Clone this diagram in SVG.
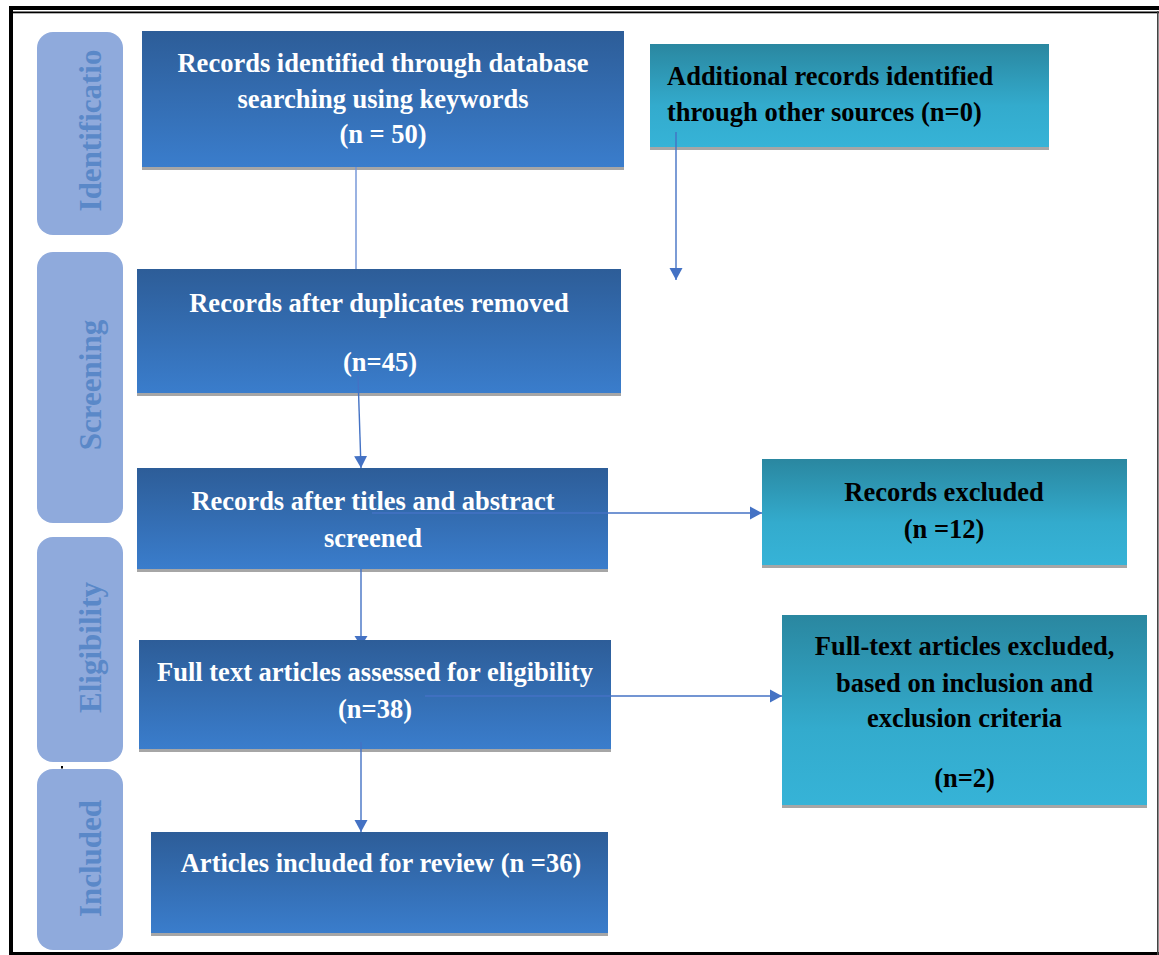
<svg xmlns="http://www.w3.org/2000/svg" width="1159" height="955" viewBox="0 0 1159 955">
<defs>
<linearGradient id="gBlue" x1="0" y1="0" x2="0" y2="1">
<stop offset="0" stop-color="#2D5D98"/>
<stop offset="1" stop-color="#3A7DCC"/>
</linearGradient>
<linearGradient id="gTeal" x1="0" y1="0" x2="0" y2="1">
<stop offset="0" stop-color="#2A87A0"/>
<stop offset="0.6" stop-color="#33ABCD"/>
<stop offset="1" stop-color="#36B3D7"/>
</linearGradient>
<marker id="arr" markerUnits="userSpaceOnUse" markerWidth="13" markerHeight="14" refX="12" refY="7" orient="auto">
<path d="M0,0.5 L12,7 L0,13.5 z" fill="#4472C4"/>
</marker>
<style>
.pill{fill:#8FAADC;}
.ptxt{font-family:"Liberation Serif","Times New Roman",serif;font-weight:bold;font-size:31px;fill:#5A88C8;text-anchor:middle;}
.bb{fill:url(#gBlue);}
.tb{fill:url(#gTeal);}
.sh{fill:#A6A6A6;}
.wt{font-family:"Liberation Serif","Times New Roman",serif;font-weight:bold;font-size:26.5px;fill:#FFFFFF;text-anchor:middle;}
.kt{font-family:"Liberation Serif","Times New Roman",serif;font-weight:bold;font-size:26.5px;fill:#000000;text-anchor:middle;}
.con{stroke:#4472C4;stroke-width:1.4;fill:none;}
</style>
</defs>
<rect x="0" y="0" width="1159" height="955" fill="#FFFFFF"/>
<g id="frame">
<rect x="9" y="6" width="1150" height="4" fill="#000"/>
<rect x="9" y="11.5" width="1150" height="1.8" fill="#000"/>
<rect x="9" y="6" width="4" height="949" fill="#000"/>
<rect x="9" y="952" width="1150" height="3" fill="#000"/>
<rect x="1157" y="11" width="1.6" height="944" fill="#444"/>
<rect x="61" y="766" width="2" height="2.5" fill="#000"/>
</g>
<g id="stage-identification">
<rect class="pill" x="37" y="32" width="86" height="203" rx="16"/>
<text class="ptxt" transform="translate(101,130.5) rotate(-90)">Identificatio</text>
</g>
<g id="stage-screening">
<rect class="pill" x="37" y="252" width="86" height="271" rx="16"/>
<text class="ptxt" transform="translate(101,385) rotate(-90)">Screening</text>
</g>
<g id="stage-eligibility">
<rect class="pill" x="37" y="537" width="86" height="225" rx="16"/>
<text class="ptxt" transform="translate(101,647.5) rotate(-90)">Eligibility</text>
</g>
<g id="stage-included">
<rect class="pill" x="37" y="769" width="86" height="181" rx="16"/>
<text class="ptxt" transform="translate(101,858.5) rotate(-90)">Included</text>
</g>
<g id="n-database">
<rect class="sh" x="142" y="167" width="482" height="3"/>
<rect class="bb" x="142" y="31" width="482" height="136"/>
<text class="wt" x="383" y="72">Records identified through database</text>
<text class="wt" x="383" y="108">searching using keywords</text>
<text class="wt" x="383" y="143">(n = 50)</text>
</g>
<g id="n-additional">
<rect class="sh" x="650" y="147" width="399" height="3"/>
<rect class="tb" x="650" y="44" width="399" height="103"/>
<text class="kt" x="667" y="85" text-anchor="start" style="text-anchor:start">Additional records identified</text>
<text class="kt" x="667" y="121" style="text-anchor:start">through other sources (n=0)</text>
</g>
<g id="n-duplicates">
<rect class="sh" x="137" y="393" width="484" height="3"/>
<rect class="bb" x="137" y="269" width="484" height="124"/>
<text class="wt" x="379" y="312">Records after duplicates removed</text>
<text class="wt" x="380" y="371">(n=45)</text>
</g>
<g id="n-screened">
<rect class="sh" x="137" y="569" width="471" height="3"/>
<rect class="bb" x="137" y="468" width="471" height="101"/>
<text class="wt" x="373" y="510">Records after titles and abstract</text>
<text class="wt" x="373" y="547">screened</text>
</g>
<g id="n-excluded">
<rect class="sh" x="762" y="565" width="365" height="3"/>
<rect class="tb" x="762" y="459" width="365" height="106"/>
<text class="kt" x="944" y="501">Records excluded</text>
<text class="kt" x="944" y="538">(n =12)</text>
</g>
<g id="n-fulltext">
<rect class="sh" x="139" y="749" width="472" height="3"/>
<rect class="bb" x="139" y="640" width="472" height="109"/>
<text class="wt" x="375" y="681">Full text articles assessed for eligibility</text>
<text class="wt" x="375" y="718">(n=38)</text>
</g>
<g id="n-fulltext-excluded">
<rect class="sh" x="782" y="805" width="365" height="3"/>
<rect class="tb" x="782" y="615" width="365" height="190"/>
<text class="kt" x="964.5" y="655">Full-text articles excluded,</text>
<text class="kt" x="964.5" y="692">based on inclusion and</text>
<text class="kt" x="964.5" y="727">exclusion criteria</text>
<text class="kt" x="964.5" y="787">(n=2)</text>
</g>
<g id="n-included">
<rect class="sh" x="151" y="933" width="457" height="3"/>
<rect class="bb" x="151" y="832" width="457" height="101"/>
<text class="wt" x="381" y="872">Articles included for review (n =36)</text>
</g>
<g id="connectors">
<line class="con" x1="356" y1="167" x2="356" y2="269" style="stroke:#6F92D6"/>
<line class="con" x1="358" y1="376" x2="361" y2="468" marker-end="url(#arr)"/>
<line class="con" x1="676" y1="132" x2="676" y2="280" marker-end="url(#arr)"/>
<line class="con" x1="372" y1="513" x2="762" y2="513" marker-end="url(#arr)"/>
<line class="con" x1="361" y1="569" x2="361" y2="637"/>
<polygon points="354.5,636 367.5,636 365,640 357,640" fill="#4472C4"/>
<line class="con" x1="425" y1="696" x2="782" y2="696" marker-end="url(#arr)"/>
<line class="con" x1="361" y1="742" x2="361" y2="832" marker-end="url(#arr)"/>
</g>
</svg>
